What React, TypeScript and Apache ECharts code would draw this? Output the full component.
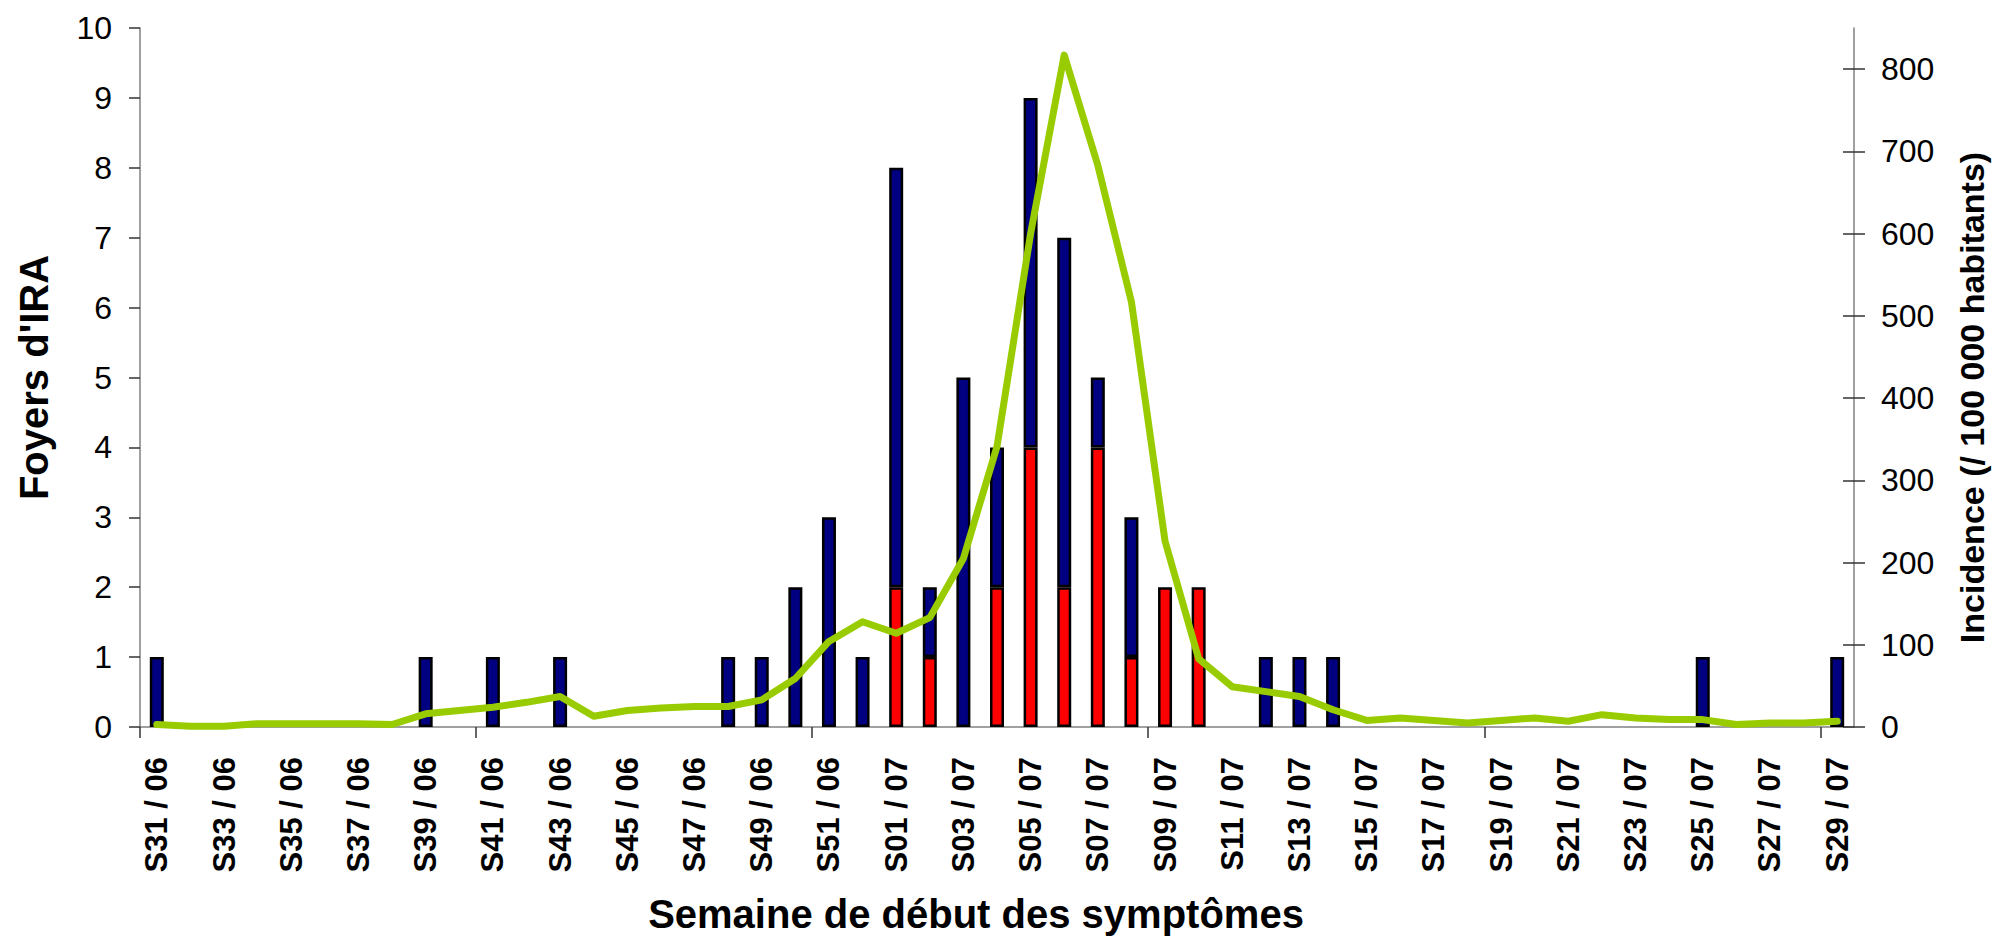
import React, { useEffect, useRef } from 'react';
import * as echarts from 'echarts';

const categories = [
  'S31 / 06', 'S32 / 06', 'S33 / 06', 'S34 / 06', 'S35 / 06', 'S36 / 06', 'S37 / 06', 'S38 / 06',
  'S39 / 06', 'S40 / 06', 'S41 / 06', 'S42 / 06', 'S43 / 06', 'S44 / 06', 'S45 / 06', 'S46 / 06',
  'S47 / 06', 'S48 / 06', 'S49 / 06', 'S50 / 06', 'S51 / 06', 'S52 / 06',
  'S01 / 07', 'S02 / 07', 'S03 / 07', 'S04 / 07', 'S05 / 07', 'S06 / 07', 'S07 / 07', 'S08 / 07',
  'S09 / 07', 'S10 / 07', 'S11 / 07', 'S12 / 07', 'S13 / 07', 'S14 / 07', 'S15 / 07', 'S16 / 07',
  'S17 / 07', 'S18 / 07', 'S19 / 07', 'S20 / 07', 'S21 / 07', 'S22 / 07', 'S23 / 07', 'S24 / 07',
  'S25 / 07', 'S26 / 07', 'S27 / 07', 'S28 / 07', 'S29 / 07',
];

// Foyers d'IRA (red part, bottom of the stack)
const foyersRouges = [
  0, 0, 0, 0, 0, 0, 0, 0, 0, 0,
  0, 0, 0, 0, 0, 0, 0, 0, 0, 0,
  0, 0, 2, 1, 0, 2, 4, 2, 4, 1,
  2, 2, 0, 0, 0, 0, 0, 0, 0, 0,
  0, 0, 0, 0, 0, 0, 0, 0, 0, 0, 0,
];

// Foyers d'IRA (blue part, top of the stack)
const foyersBleus = [
  1, 0, 0, 0, 0, 0, 0, 0, 1, 0,
  1, 0, 1, 0, 0, 0, 0, 1, 1, 2,
  3, 1, 6, 1, 5, 2, 5, 5, 1, 2,
  0, 0, 0, 1, 1, 1, 0, 0, 0, 0,
  0, 0, 0, 0, 0, 0, 1, 0, 0, 0, 1,
];

// Incidence (/ 100 000 habitants)
const incidence = [
  3, 1, 1, 4, 4, 4, 4, 3, 16, 20,
  24, 30, 37, 13, 20, 23, 25, 25, 33, 59,
  104, 128, 114, 133, 205, 341, 600, 817, 683, 517,
  226, 83, 49, 43, 37, 21, 8, 11, 8, 5,
  8, 11, 7, 15, 11, 9, 9, 3, 5, 5, 7,
];

const rightTicks = [0, 100, 200, 300, 400, 500, 600, 700, 800];
const xTickBounds = [0, 10, 20, 30, 40, 50];

const FONT = '"Liberation Sans", Arial, Helvetica, sans-serif';
const AXIS_GREY = '#808080';
const TICK_COLOR = '#333333';

export default function App() {
  const ref = useRef<HTMLDivElement>(null);

  useEffect(() => {
    if (!ref.current) return;
    const chart = echarts.init(ref.current, null, { renderer: 'svg' });
    const option = {
      animation: false,
      backgroundColor: '#ffffff',
      textStyle: { fontFamily: FONT },
      grid: { left: 140, right: 138, top: 28, bottom: 214, containLabel: false },
      xAxis: [
        {
          type: 'category',
          data: categories,
          boundaryGap: true,
          axisLine: { show: true, lineStyle: { color: AXIS_GREY, width: 1.5 } },
          axisTick: { show: false },
          axisLabel: {
            interval: 1,
            rotate: 90,
            margin: 30,
            fontFamily: FONT,
            fontWeight: 'bold',
            fontSize: 31,
            color: '#000',
          },
          splitLine: { show: false },
          name: 'Semaine de début des symptômes',
          nameLocation: 'middle',
          nameGap: 167,
          nameTextStyle: {
            fontFamily: FONT,
            fontWeight: 'bold',
            fontSize: 40,
            color: '#000',
            padding: [0, 42, 0, 0],
          },
        },
        {
          type: 'value',
          position: 'bottom',
          min: 0,
          max: categories.length,
          axisLine: { show: false },
          axisLabel: { show: false },
          splitLine: { show: false },
          axisTick: {
            show: true,
            length: 11,
            customValues: xTickBounds,
            lineStyle: { color: TICK_COLOR, width: 1.5 },
          },
        },
      ],
      yAxis: [
        {
          type: 'value',
          position: 'left',
          min: 0,
          max: 10,
          interval: 1,
          axisLine: { show: true, lineStyle: { color: AXIS_GREY, width: 1.5 } },
          axisTick: { show: true, length: 11, lineStyle: { color: TICK_COLOR, width: 1.5 } },
          axisLabel: { fontFamily: FONT, fontSize: 32, color: '#000', margin: 28 },
          splitLine: { show: false },
          name: "Foyers d'IRA",
          nameLocation: 'middle',
          nameRotate: 90,
          nameGap: 86,
          nameTextStyle: { fontFamily: FONT, fontWeight: 'bold', fontSize: 40, color: '#000' },
        },
        {
          type: 'value',
          position: 'right',
          min: 0,
          max: 850,
          axisLine: { show: true, lineStyle: { color: AXIS_GREY, width: 1.5 } },
          axisTick: {
            show: true,
            length: 11,
            customValues: rightTicks,
            lineStyle: { color: TICK_COLOR, width: 1.5 },
          },
          axisLabel: {
            customValues: rightTicks,
            fontFamily: FONT,
            fontSize: 32,
            color: '#000',
            margin: 27,
          },
          splitLine: { show: false },
          name: 'Incidence (/ 100 000 habitants)',
          nameLocation: 'middle',
          nameRotate: 90,
          nameGap: 101,
          nameTextStyle: {
            fontFamily: FONT,
            fontWeight: 'bold',
            fontSize: 34,
            color: '#000',
            padding: [0, 40, 0, 0],
          },
        },
        {
          type: 'value',
          position: 'right',
          min: 0,
          max: 850,
          axisLine: { show: false },
          axisTick: {
            show: true,
            inside: true,
            length: 11,
            customValues: rightTicks,
            lineStyle: { color: TICK_COLOR, width: 1.5 },
          },
          axisLabel: { show: false },
          splitLine: { show: false },
        },
      ],
      series: [
        {
          name: 'Foyers (rouge)',
          type: 'bar',
          stack: 'foyers',
          xAxisIndex: 0,
          yAxisIndex: 0,
          barWidth: 14,
          data: foyersRouges.map((v) => (v === 0 ? null : v)),
          itemStyle: { color: '#FF0000', borderColor: '#000000', borderWidth: 2.5 },
        },
        {
          name: 'Foyers (bleu)',
          type: 'bar',
          stack: 'foyers',
          xAxisIndex: 0,
          yAxisIndex: 0,
          barWidth: 14,
          data: foyersBleus.map((v) => (v === 0 ? null : v)),
          itemStyle: { color: '#000080', borderColor: '#000000', borderWidth: 2.5 },
        },
        {
          name: 'Incidence',
          type: 'line',
          xAxisIndex: 0,
          yAxisIndex: 1,
          data: incidence,
          symbol: 'none',
          z: 5,
          lineStyle: { color: '#99CC00', width: 7, cap: 'round', join: 'round' },
        },
      ],
    };
    chart.setOption(option as any);
    return () => chart.dispose();
  }, []);

  return (
    <div
      ref={ref}
      style={{ position: 'fixed', left: 0, top: 0, width: 1997, height: 941, background: '#fff' }}
    />
  );
}
